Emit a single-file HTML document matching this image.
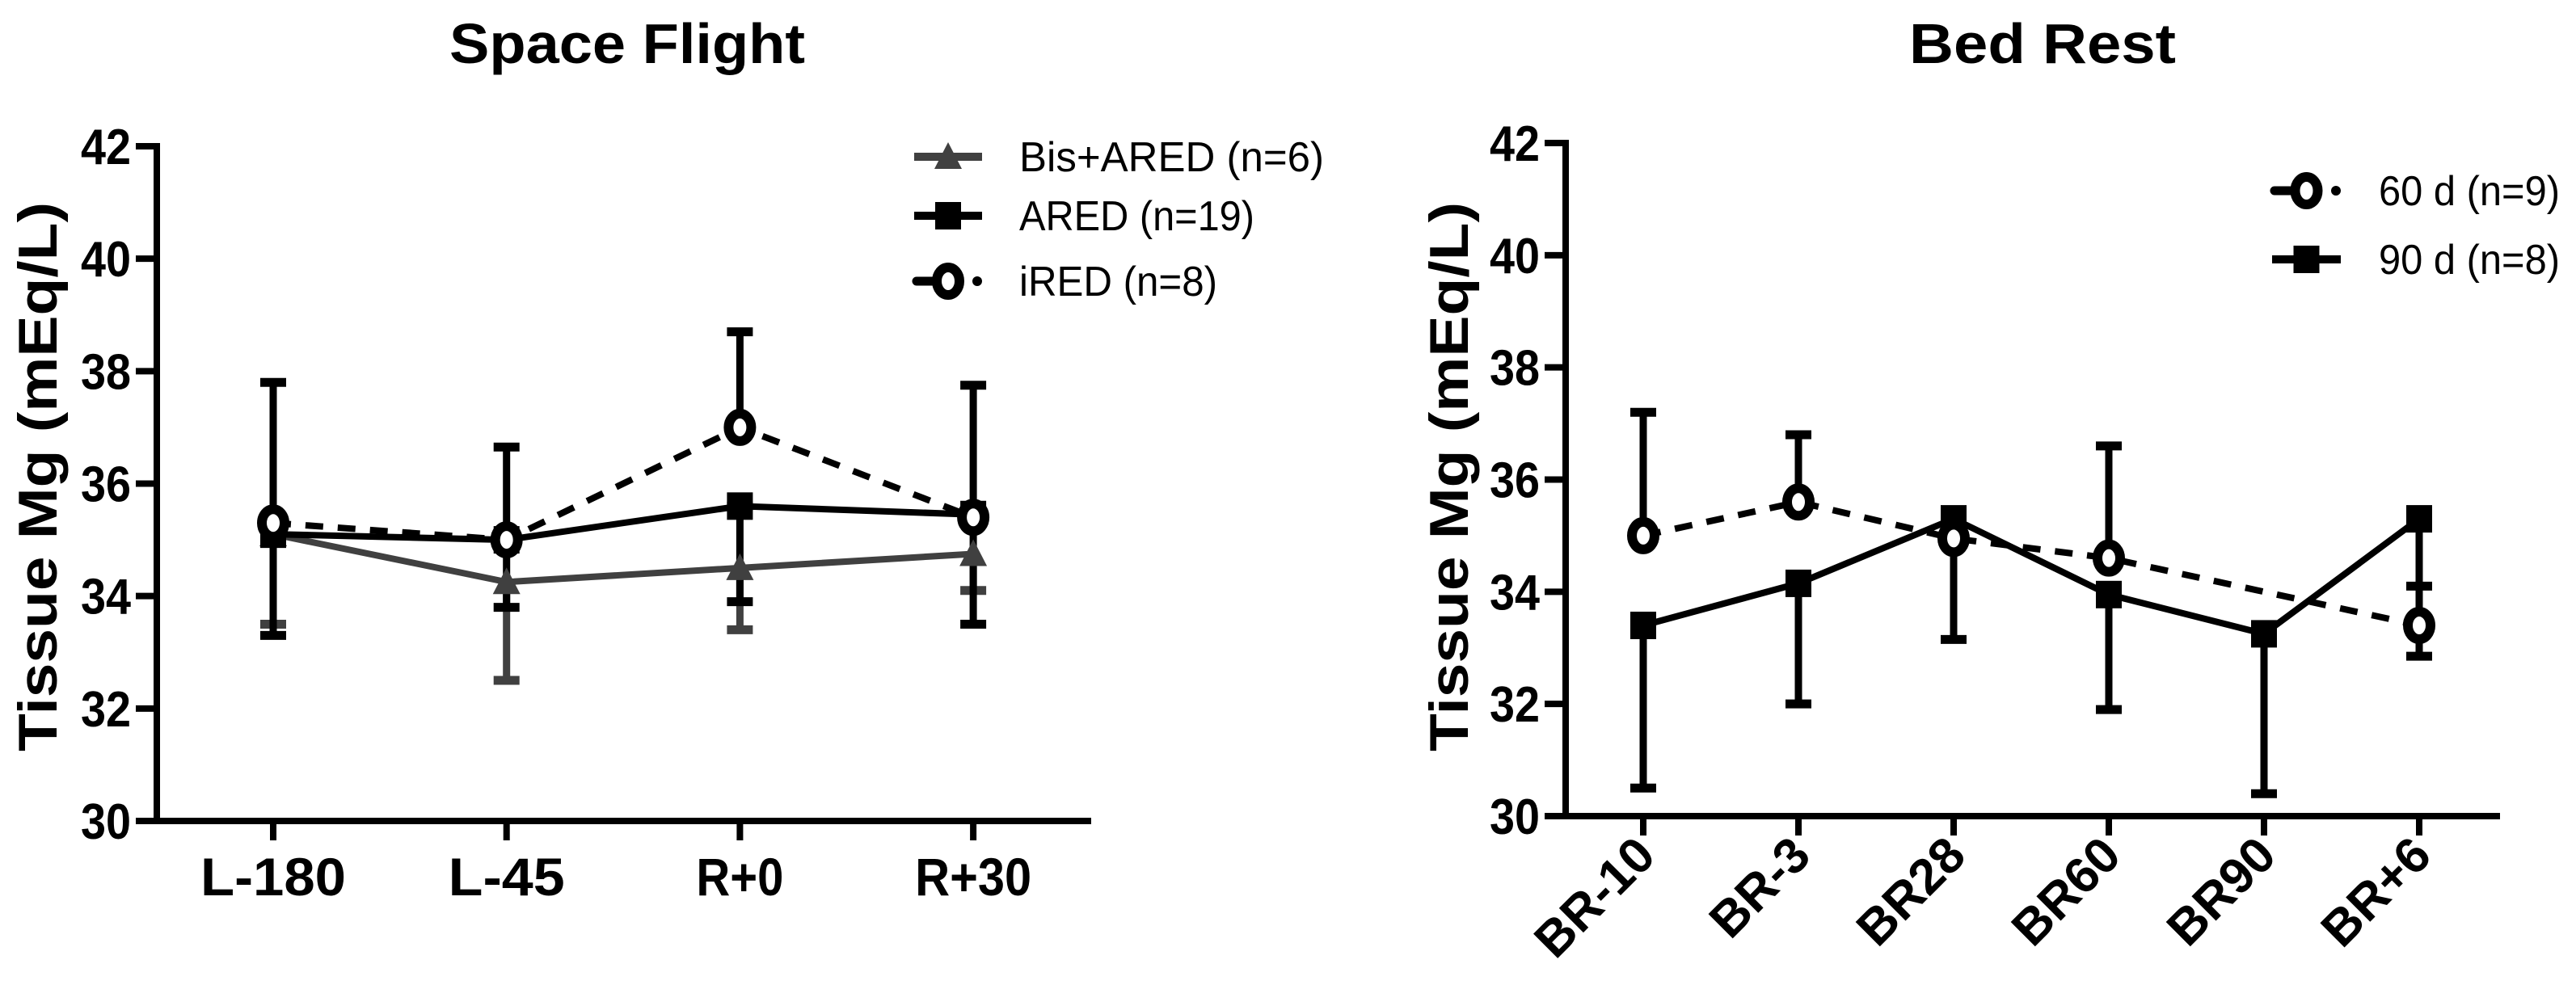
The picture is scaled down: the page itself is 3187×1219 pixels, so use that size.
<!DOCTYPE html>
<html><head><meta charset="utf-8"><style>
html,body{margin:0;padding:0;background:#fff;}
svg{display:block;}
text{font-family:"Liberation Sans",Arial,sans-serif;}
</style></head><body>
<svg id="chart" width="3187" height="1219" viewBox="0 0 3187 1219" xmlns="http://www.w3.org/2000/svg">
<text x="776" y="78" font-size="70" font-weight="bold" text-anchor="middle" textLength="440" lengthAdjust="spacingAndGlyphs">Space Flight</text>
<text x="2527" y="78" font-size="70" font-weight="bold" text-anchor="middle" textLength="330" lengthAdjust="spacingAndGlyphs">Bed Rest</text>
<text transform="translate(70,590) rotate(-90)" font-size="68" font-weight="bold" text-anchor="middle" textLength="680" lengthAdjust="spacingAndGlyphs">Tissue Mg (mEq/L)</text>
<text transform="translate(1816,590) rotate(-90)" font-size="68" font-weight="bold" text-anchor="middle" textLength="680" lengthAdjust="spacingAndGlyphs">Tissue Mg (mEq/L)</text>
<g id="g"></g>
</svg>
<script>
// ---- data ----
const yTicks = [30, 32, 34, 36, 38, 40, 42];
const sfCategories = ["L-180", "L-45", "R+0", "R+30"];
const sfBis = [35.1, 34.25, 34.5, 34.75];
const sfBisLow = [33.5, 32.5, 33.4, 34.1];
const sfAred = [35.1, 35.0, 35.6, 35.45];
const sfAredLow = [33.3, 33.8, 33.9, 33.5];
const sfAredHigh = [37.8, 36.65, 35.6, 37.75];
const sfIred = [35.3, 35.0, 37.0, 35.4];
const sfIredHigh = [35.3, 35.0, 38.7, 35.4];
const brCategories = ["BR-10", "BR-3", "BR28", "BR60", "BR90", "BR+6"];
const br60 = [35.0, 35.6, 34.95, 34.6, null, 33.4];
const br60High = [37.2, 36.8, 34.95, 36.6, null, 34.1];
const br90 = [33.4, 34.15, 35.3, 33.95, 33.25, 35.3];
const br90Low = [30.5, 32.0, 33.15, 31.9, 30.4, 32.85];

const NS = "http://www.w3.org/2000/svg";
const G = document.getElementById('g');
function el(tag, attrs, parent) {
  const e = document.createElementNS(NS, tag);
  for (const k in attrs) e.setAttribute(k, attrs[k]);
  (parent || G).appendChild(e);
  return e;
}
function makePanel(p) {
  const y = v => p.yTop + (42 - v) * (p.yBot - p.yTop) / 12;
  const x = i => p.x0 + i * p.dx;
  p.y = y; p.x = x;
  const ax = el('line', {x1: p.ax, y1: p.yTop - 4, x2: p.ax, y2: p.yBot + 4, stroke: '#000', 'stroke-width': 8});
  
  
  const bx = el('line', {x1: p.ax - 4, y1: p.yBot, x2: p.xEnd, y2: p.yBot, stroke: '#000', 'stroke-width': 8});
  
  
  yTicks.forEach(t => {
    const tk = el('line', {x1: p.ax - 26, y1: y(t), x2: p.ax, y2: y(t), stroke: '#000', 'stroke-width': 8});
    
    
    const tl = el('text', {x: p.ax - 32, y: y(t) + 22, 'font-size': 62, 'font-weight': 'bold', 'text-anchor': 'end', textLength: 62, lengthAdjust: 'spacingAndGlyphs'});
    tl.textContent = t;
    
    
  });
  p.cats.forEach((c, i) => {
    const tk = el('line', {x1: x(i), y1: p.yBot, x2: x(i), y2: p.yBot + 24, stroke: '#000', 'stroke-width': 8});
    
    
    let tl;
    if (p.rot) {
      tl = el('text', {transform: 'translate(' + (x(i) + 18) + ',' + (p.yBot + 52) + ') rotate(-45)', 'font-size': 62, 'font-weight': 'bold', 'text-anchor': 'end'});
    } else {
      tl = el('text', {x: x(i), y: p.yBot + 92, 'font-size': 66, 'font-weight': 'bold', 'text-anchor': 'middle', textLength: c.length * 36, lengthAdjust: 'spacingAndGlyphs'});
    }
    tl.textContent = c;
    
    
  });
  return p;
}
function errBar(p, i, from, to, color, name) {
  if (from == null || to == null) return;
  const s = el('line', {x1: p.x(i), y1: p.y(from), x2: p.x(i), y2: p.y(to), stroke: color, 'stroke-width': 9});
  
  
  const c = el('line', {x1: p.x(i) - 16, y1: p.y(to), x2: p.x(i) + 16, y2: p.y(to), stroke: color, 'stroke-width': 11});
  
  
}
function series(p, vals, color, dash, name) {
  const pts = [];
  vals.forEach((v, i) => { if (v != null) pts.push(p.x(i) + ',' + p.y(v)); });
  const l = el('polyline', {points: pts.join(' '), fill: 'none', stroke: color, 'stroke-width': 8, 'stroke-dasharray': dash || 'none'});
  
  
}
function marker(type, cx, cy, color, name) {
  let m;
  if (type === 'tri') m = el('polygon', {points: (cx - 17) + ',' + (cy + 15) + ' ' + (cx + 17) + ',' + (cy + 15) + ' ' + cx + ',' + (cy - 18), fill: color});
  else if (type === 'sq') m = el('rect', {x: cx - 16, y: cy - 17, width: 32, height: 34, fill: color});
  else m = el('ellipse', {cx: cx, cy: cy, rx: 14, ry: 17, fill: '#fff', stroke: color, 'stroke-width': 12});
  
  
}
function legend(x1, x2, y, tx, type, color, dashed, label, tlen, name) {
  if (dashed) {
    const d1 = el('line', {x1: x1 + 3, y1: y, x2: x1 + 22, y2: y, stroke: color, 'stroke-width': 11, 'stroke-linecap': 'round'});
    
    
    const d2 = el('circle', {cx: x2 - 6, cy: y, r: 6, fill: color});
    
    
  } else {
    const l = el('line', {x1: x1, y1: y, x2: x2, y2: y, stroke: color, 'stroke-width': 10});
    
    
  }
  marker(type, (x1 + x2) / 2, y, color, name + '-marker');
  const t = el('text', {x: tx, y: y + 18, 'font-size': 52, textLength: tlen, lengthAdjust: 'spacingAndGlyphs'});
  t.textContent = label;
  
  
}

// ---- Space flight ----
const L = makePanel({name: 'space-flight', ax: 194, xEnd: 1350, yTop: 181, yBot: 1016, x0: 338, dx: 288.7, cats: sfCategories, rot: false});
const GRAY = '#404040';
sfCategories.forEach((c, i) => errBar(L, i, sfBis[i], sfBisLow[i], GRAY, 'bis-ared-error-bar'));
sfCategories.forEach((c, i) => { errBar(L, i, sfAred[i], sfAredLow[i], '#000', 'ared-error-bar-low'); errBar(L, i, sfAred[i], sfAredHigh[i], '#000', 'ared-error-bar-high'); });
sfCategories.forEach((c, i) => errBar(L, i, sfIred[i], sfIredHigh[i], '#000', 'ired-error-bar'));
series(L, sfBis, GRAY, null, 'bis-ared');
series(L, sfAred, '#000', null, 'ared');
series(L, sfIred, '#000', '22 18', 'ired');
sfBis.forEach((v, i) => marker('tri', L.x(i), L.y(v), GRAY, 'bis-ared-point'));
sfAred.forEach((v, i) => marker('sq', L.x(i), L.y(v), '#000', 'ared-point'));
sfIred.forEach((v, i) => marker('circ', L.x(i), L.y(v), '#000', 'ired-point'));
legend(1131, 1215, 194, 1261, 'tri', GRAY, false, 'Bis+ARED (n=6)', 377, 'legend-bis-ared');
legend(1131, 1215, 267, 1261, 'sq', '#000', false, 'ARED (n=19)', 291, 'legend-ared');
legend(1131, 1215, 348, 1261, 'circ', '#000', true, 'iRED (n=8)', 245, 'legend-ired');

// ---- Bed rest ----
const R = makePanel({name: 'bed-rest', ax: 1937, xEnd: 3093, yTop: 177, yBot: 1010, x0: 2033, dx: 192, cats: brCategories, rot: true});
brCategories.forEach((c, i) => errBar(R, i, br90[i], br90Low[i], '#000', 'br90-error-bar'));
brCategories.forEach((c, i) => errBar(R, i, br60[i], br60High[i], '#000', 'br60-error-bar'));
series(R, br90, '#000', null, '90d');
series(R, br60, '#000', '22 18', '60d');
br90.forEach((v, i) => marker('sq', R.x(i), R.y(v), '#000', '90d-point'));
br60.forEach((v, i) => { if (v != null) marker('circ', R.x(i), R.y(v), '#000', '60d-point'); });
legend(2811, 2896, 236, 2943, 'circ', '#000', true, '60 d (n=9)', 224, 'legend-60d');
legend(2811, 2896, 321, 2943, 'sq', '#000', false, '90 d (n=8)', 224, 'legend-90d');
</script>
</body></html>
